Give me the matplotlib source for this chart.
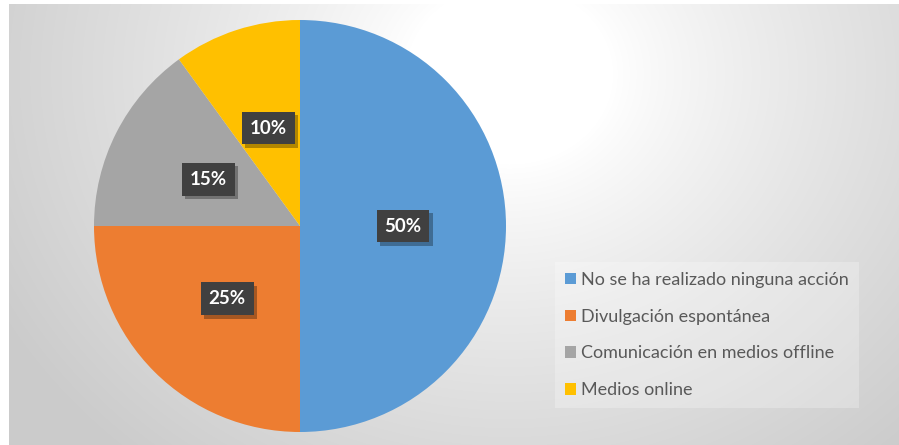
import numpy as np
import matplotlib
matplotlib.use("Agg")
import matplotlib.pyplot as plt
import matplotlib.patheffects as pe
from matplotlib.patches import Patch

categories = [
    "No se ha realizado ninguna acción",
    "Divulgación espontánea",
    "Comunicación en medios offline",
    "Medios online",
]
shares = [50, 25, 15, 10]
colors = ["#5B9BD5", "#ED7D31", "#A5A5A5", "#FFC000"]

W, H = 899, 445
fig = plt.figure(figsize=(W / 100, H / 100), dpi=100, facecolor="white")

# Chart area background: soft radial gradient, brightest above the legend
bg = fig.add_axes([9 / W, 0, (W - 9) / W, (H - 4) / H])
bw, bh = W - 9, H - 4
yy, xx = np.mgrid[0:bh, 0:bw]
cx, cy = 500.0, 70.0
r = np.hypot((xx - cx) / 1.15, (yy - cy))
t = np.clip((r - 90) / 420, 0, 1) ** 0.85
val = (255 - 52 * t) / 255.0
img = np.dstack([val, val, val])
bg.imshow(img, aspect="auto", interpolation="bilinear")
bg.set_axis_off()

# Pie
cxp, cyp, rad = 300, 226, 206
ax = fig.add_axes([(cxp - rad) / W, (H - cyp - rad) / H, 2 * rad / W, 2 * rad / H])
wedges, _, autotexts = ax.pie(
    shares,
    colors=colors,
    startangle=90,
    counterclock=False,
    radius=1,
    autopct=lambda p: f"{p:.0f}%",
    pctdistance=0.5,
    wedgeprops=dict(linewidth=0),
    textprops=dict(color="white", fontsize=13.5, fontweight="bold", family="Lato"),
)
ax.set_xlim(-1, 1)
ax.set_ylim(-1, 1)
ax.set_aspect("equal")
ax.set_axis_off()

# Dark label boxes with a soft drop shadow
for t_ in autotexts:
    t_.set_bbox(dict(boxstyle="square,pad=0.42", facecolor="#404040", edgecolor="none"))
    t_.set_zorder(5)
    t_.get_bbox_patch().set_path_effects([
        pe.SimplePatchShadow(offset=(2.5, -2.5), shadow_rgbFace="black", alpha=0.3),
        pe.Normal(),
    ])

# Legend
handles = [Patch(facecolor=c, edgecolor="none") for c in colors]
leg = fig.legend(
    handles, categories,
    loc="upper left",
    bbox_to_anchor=(555 / W, 1 - 262 / H),
    frameon=True,
    fancybox=False,
    facecolor="white",
    edgecolor="none",
    framealpha=0.25,
    handlelength=0.6,
    handleheight=0.6,
    handletextpad=0.3,
    labelspacing=1.15,
    borderpad=0.55,
    borderaxespad=0,
    prop=dict(family="Lato", size=13),
)
for txt in leg.get_texts():
    txt.set_color("#595959")

fig.savefig("out.png", dpi=100, facecolor=fig.get_facecolor())
